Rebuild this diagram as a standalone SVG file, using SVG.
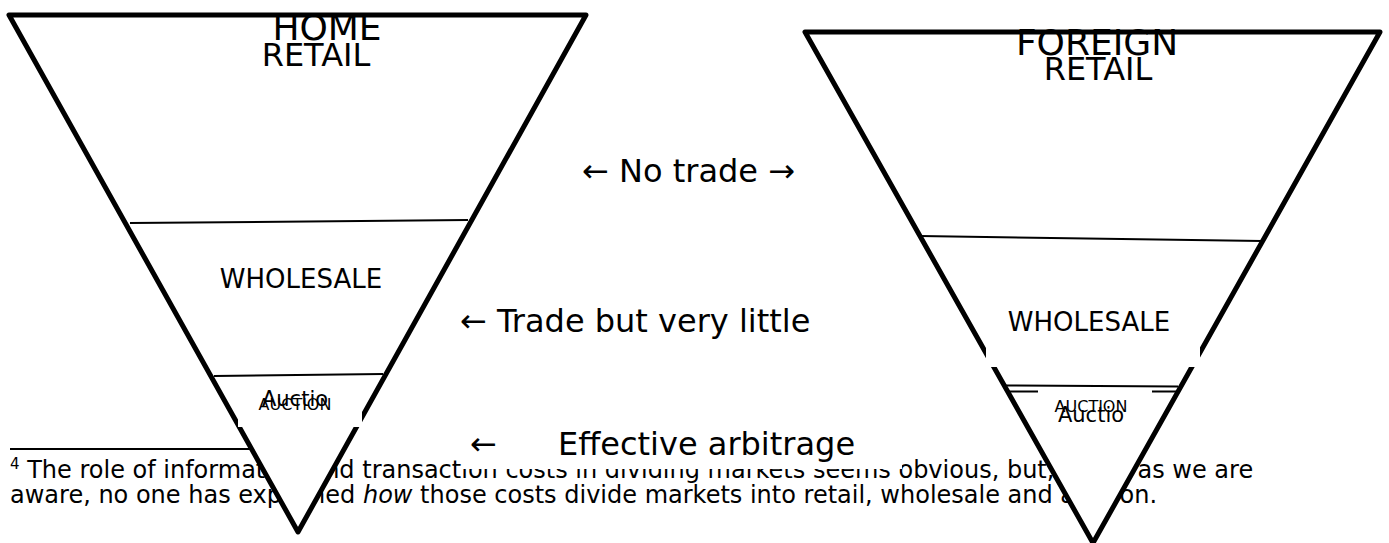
<svg xmlns="http://www.w3.org/2000/svg" width="1389" height="543" viewBox="0 0 1389 543">
<style>
text{font-family:"DejaVu Sans",sans-serif;fill:#000}
.tri{fill:#fff;stroke:#000;stroke-width:5;stroke-linejoin:round}
.div{stroke:#000;stroke-width:2;fill:none}
.big{font-size:36px;text-anchor:middle}
.mid{font-size:32px;text-anchor:middle}
.seg{font-size:26px;text-anchor:middle}
.lab{font-size:32px}
.fn{font-size:24px}
.a1{font-size:16px;text-anchor:middle}
.a2{font-size:21px;text-anchor:middle}
</style>
<rect width="1389" height="543" fill="#fff"/>
<g id="footnote">
<line x1="10" y1="449" x2="255" y2="449" stroke="#000" stroke-width="2"/>
<text class="fn" x="10" y="478"><tspan font-size="15" dy="-9">4</tspan><tspan dy="9"> The role of information and transaction costs in dividing markets seems obvious, but, as far as we are</tspan></text>
<text class="fn" x="10" y="503">aware, no one has explained <tspan font-style="italic">how</tspan> those costs divide markets into retail, wholesale and auction.</text>
</g>
<g id="arbitrage">
<rect x="462" y="425" width="440" height="44" fill="#fff"/>
<text class="lab" x="470" y="455">←</text>
<text class="lab" x="558" y="455">Effective arbitrage</text>
</g>
<g id="home">
<polygon class="tri" points="9,15 586,15 298,532"/>
<line class="div" x1="130" y1="223" x2="468" y2="220"/>
<line class="div" x1="214" y1="376" x2="383" y2="374"/>
<rect x="238" y="388" width="124" height="39" fill="#fff"/>
<text class="big" x="327" y="40">HOME</text>
<text class="mid" x="316" y="66">RETAIL</text>
<text class="seg" x="301" y="288">WHOLESALE</text>
<text class="a1" x="295" y="410">AUCTION</text>
<text class="a2" x="295" y="406">Auctio</text>
</g>
<g id="foreign">
<polygon class="tri" points="805,32 1380,32 1093,543"/>
<line class="div" x1="920" y1="236" x2="1262" y2="241"/>
<rect x="986" y="340" width="214" height="27" fill="#fff"/>
<line class="div" x1="1004" y1="385.5" x2="1178" y2="386.5"/>
<line class="div" x1="1008" y1="391.5" x2="1038" y2="391.5"/>
<line class="div" x1="1152" y1="391.5" x2="1178" y2="391.5"/>
<text class="big" x="1097" y="55">FOREIGN</text>
<text class="mid" x="1098" y="80">RETAIL</text>
<text class="seg" x="1089" y="331">WHOLESALE</text>
<text class="a1" x="1091" y="412">AUCTION</text>
<text class="a2" x="1091" y="422">Auctio</text>
</g>
<g id="connectors">
<text class="lab" x="582" y="182">← No trade →</text>
<text class="lab" x="460" y="332">← Trade but very little</text>
</g>
</svg>
